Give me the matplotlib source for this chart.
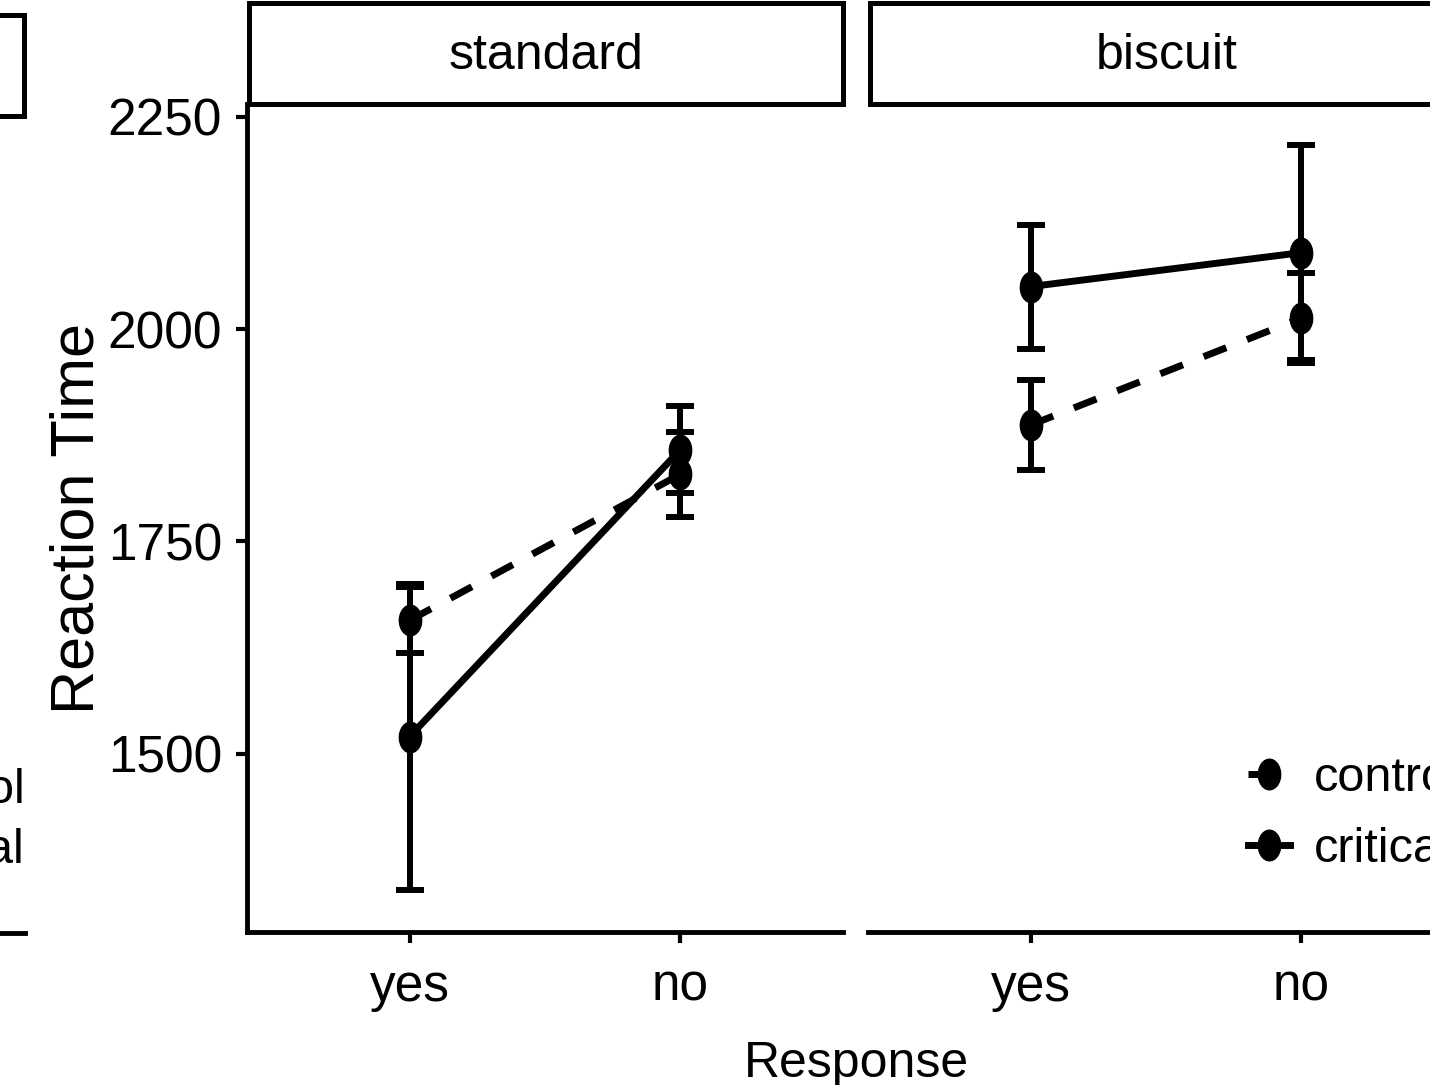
import matplotlib
matplotlib.use("Agg")
import matplotlib.pyplot as plt
from matplotlib.path import Path
from matplotlib.transforms import Affine2D
from matplotlib.patches import Rectangle
from matplotlib.lines import Line2D

# data
responses = ["yes", "no"]
panels = ["standard", "biscuit"]
conditions = ["control", "critical"]

standard_control = [1657, 1829]
standard_control_err = [39, 50]
standard_critical = [1520, 1858]
standard_critical_err = [180, 51]

biscuit_control = [1887, 2013]
biscuit_control_err = [53, 53]
biscuit_critical = [2050, 2090]
biscuit_critical_err = [73, 127]

y_ticks = [1500, 1750, 2000, 2250]

plt.rcParams["font.family"] = ["Liberation Sans", "DejaVu Sans"]

W, H = 1430, 1085
fig = plt.figure(figsize=(W / 100, H / 100), dpi=100)

def px(x0, y0, x1, y1):
    # image pixel box -> figure fraction rect
    return [x0 / W, (H - y1) / H, (x1 - x0) / W, (y1 - y0) / H]

# ellipse marker, the picture is squeezed horizontally
ell = Path.unit_circle().transformed(Affine2D().scale(0.73, 1.0))

xs = [1, 2]
data = {
    "standard": [(standard_control, standard_control_err), (standard_critical, standard_critical_err)],
    "biscuit": [(biscuit_control, biscuit_control_err), (biscuit_critical, biscuit_critical_err)],
}
styles = {"control": (3.5, 3.2), "critical": None}

axes = []
for i, name in enumerate(panels):
    x0 = 247 + i * 621
    ax = fig.add_axes(px(x0, 104, x0 + 596, 932))
    strip = fig.add_axes(px(x0 + 2, 3, x0 + 596, 104))
    strip.set_xticks([])
    strip.set_yticks([])
    for s in strip.spines.values():
        s.set_linewidth(3.6)
    strip.text(0.5, 0.48, name, ha="center", va="center", fontsize=36,
               transform=strip.transAxes)

    for cond, (vals, errs) in zip(conditions, data[name]):
        ax.errorbar(xs, vals, yerr=errs, fmt="none", ecolor="black",
                    elinewidth=4.3, capsize=10, capthick=4.3)
        line, = ax.plot(xs, vals, color="black", lw=5, marker=ell,
                        markersize=22, label=cond)
        if styles[cond]:
            line.set_dashes(styles[cond])

    ax.set_xlim(0.4, 2.6)
    ax.set_ylim(1290, 2265)
    ax.set_xticks(xs)
    ax.set_xticklabels(responses)
    ax.spines["top"].set_visible(False)
    ax.spines["right"].set_visible(False)
    ax.spines["left"].set_linewidth(3.5)
    ax.spines["bottom"].set_linewidth(3.5)
    ax.tick_params(axis="both", length=8, width=3, labelsize=37, colors="black")
    ax.tick_params(axis="x", pad=14)
    ax.tick_params(axis="y", pad=10)
    if i == 0:
        ax.set_yticks(y_ticks)
    else:
        ax.spines["left"].set_visible(False)
        ax.set_yticks([])
    axes.append(ax)

axes[0].set_ylabel("Reaction Time", fontsize=44, va="center")
axes[0].yaxis.set_label_coords(-0.2836, 0.5)
fig.text(856 / W, 8 / H, "Response", ha="center", va="baseline", fontsize=36)

# legend, partly outside the picture on the right
h, l = axes[1].get_legend_handles_labels()
axes[1].legend(h, l, loc="center left", bbox_to_anchor=(1248 / W, (H - 814) / H),
               bbox_transform=fig.transFigure, frameon=False, fontsize=35,
               borderpad=0, borderaxespad=0, handlelength=0.86,
               handletextpad=0.5, labelspacing=0.55)

# leftover edge of a neighbouring copy of the chart
fig.patches.append(Rectangle(((-100) / W, (H - 116) / H), 124 / W, 101 / H,
                             transform=fig.transFigure, fill=False,
                             lw=3.6, ec="black"))
fig.text(26 / W, (H - 803) / H, "control", ha="right", va="baseline", fontsize=35)
fig.text(25 / W, (H - 863) / H, "critical", ha="right", va="baseline", fontsize=35)
fig.lines.append(Line2D([0, 25 / W], [(H - 933) / H] * 2, transform=fig.transFigure,
                        lw=3.5, color="black"))

fig.savefig("out.png", dpi=100)
